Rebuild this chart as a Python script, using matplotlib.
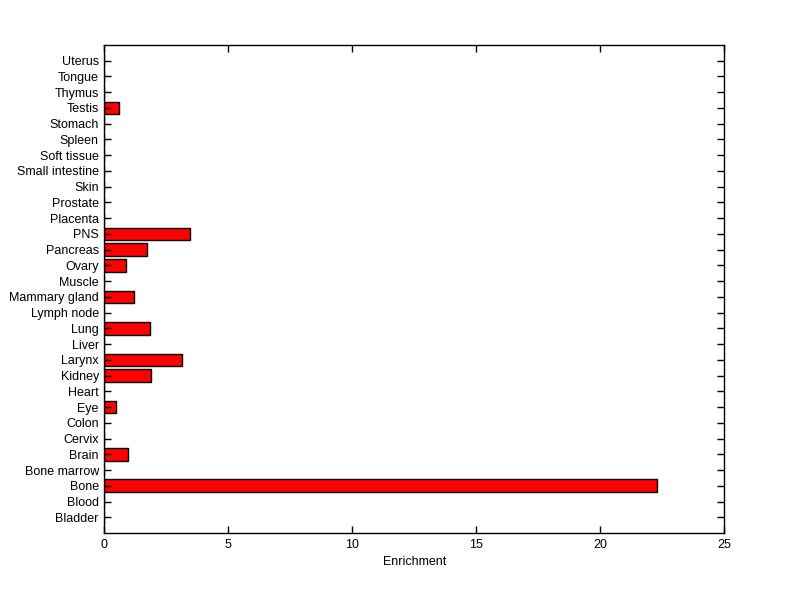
import matplotlib
matplotlib.use("Agg")
import matplotlib.pyplot as plt

tissues = ["Bladder", "Blood", "Bone", "Bone marrow", "Brain", "Cervix", "Colon",
           "Eye", "Heart", "Kidney", "Larynx", "Liver", "Lung", "Lymph node",
           "Mammary gland", "Muscle", "Ovary", "Pancreas", "PNS", "Placenta",
           "Prostate", "Skin", "Small intestine", "Soft tissue", "Spleen",
           "Stomach", "Testis", "Thymus", "Tongue", "Uterus"]
enrichment = [0, 0, 22.27, 0, 0.94, 0, 0,
              0.48, 0, 1.87, 3.15, 0, 1.83, 0,
              1.21, 0, 0.89, 1.73, 3.47, 0,
              0, 0, 0, 0, 0,
              0, 0.60, 0, 0, 0]

plt.rcParams["font.family"] = ["Liberation Sans", "DejaVu Sans"]

fig = plt.figure(figsize=(8, 5.99), dpi=100, facecolor="white")
ax = fig.add_axes([0.1304, 0.1102, 0.775, 0.8147])

pos = list(range(1, len(tissues) + 1))
ax.barh(pos, enrichment, height=0.8, color="#ff0000", edgecolor="black", linewidth=1)

ax.set_xlim(0, 25)
ax.set_ylim(0, len(tissues) + 1)
ax.set_xticks([0, 5, 10, 15, 20, 25])
ax.set_yticks(pos)
ax.set_yticklabels(tissues)
ax.set_xlabel("Enrichment", fontsize=9, labelpad=4)

ax.tick_params(axis="both", direction="in", length=5, width=1, labelsize=9,
               top=True, right=True, pad=4)
for s in ax.spines.values():
    s.set_linewidth(1)

plt.savefig("out.png", dpi=100, facecolor="white")
